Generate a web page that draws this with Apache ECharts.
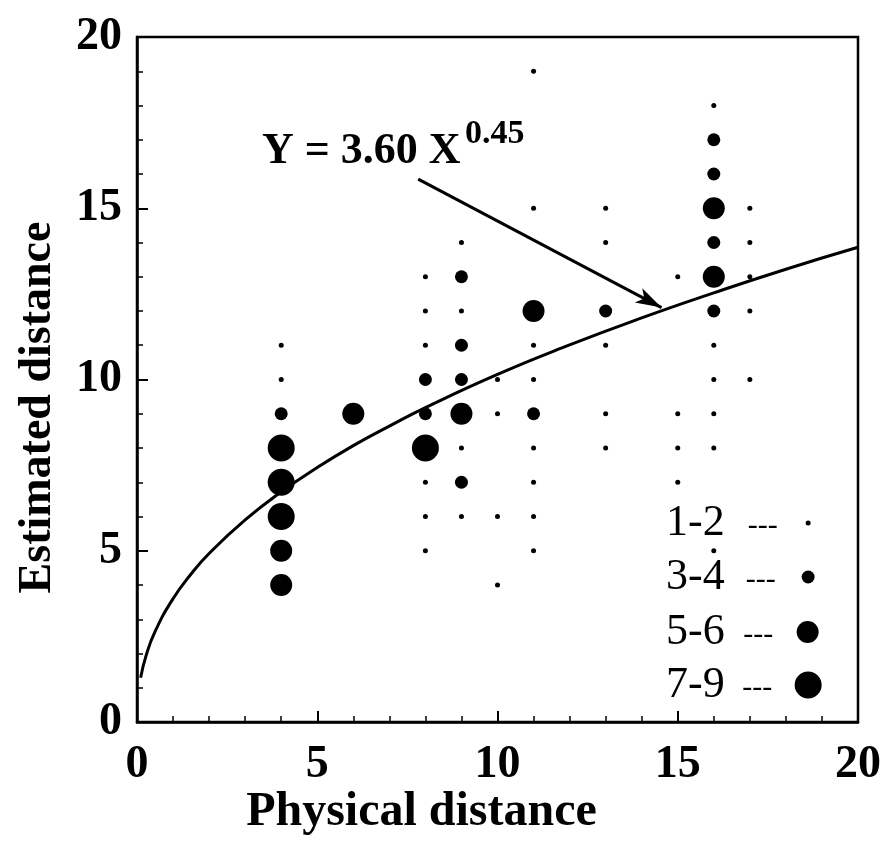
<!DOCTYPE html>
<html><head><meta charset="utf-8">
<script src="https://cdn.jsdelivr.net/npm/echarts@6/dist/echarts.min.js"></script>
<style>html,body{margin:0;padding:0;background:#fff}#c{width:888px;height:841px}</style>
</head><body><div id="c"></div>
<script>
// ---- data ----
const legendLabels = ['1-2', '3-4', '5-6', '7-9'];
const pts12 = [[4,11],[4,10],
  [8,13],[8,12],[8,11],[8,7],[8,6],[8,5],
  [9,14],[9,12],[9,8],[9,6],
  [10,10],[10,9],[10,6],[10,4],
  [11,19],[11,15],[11,11],[11,10],[11,8],[11,7],[11,6],[11,5],
  [13,15],[13,14],[13,11],[13,9],[13,8],
  [15,13],[15,9],[15,8],[15,7],
  [16,18],[16,11],[16,10],[16,9],[16,8],[16,5],
  [17,15],[17,14],[17,13],[17,12],[17,10]];
const pts34 = [[4,9],[8,10],[8,9],[9,13],[9,11],[9,10],[9,7],[11,9],[13,12],[16,17],[16,16],[16,14],[16,12]];
const pts56 = [[4,5],[4,4],[6,9],[9,9],[11,12],[16,15],[16,13]];
const pts79 = [[4,8],[4,7],[4,6],[8,8]];
const curveX = [0.1, 0.25, 0.5, 1, 1.5, 2, 3, 4, 5, 6, 7, 8, 10, 12, 14, 16, 18, 20];
const curveY = [1.29, 1.93, 2.64, 3.60, 4.32, 4.92, 5.90, 6.72, 7.43, 8.07, 8.64, 9.18, 10.15, 11.01, 11.80, 12.53, 13.22, 13.86];
const arrowFrom = [7.8, 15.85];
const arrowTo = [14.55, 12.1];
const formulaMain = 'Y = 3.60 X';
const formulaExp = '0.45';
const xTitle = 'Physical distance';
const yTitle = 'Estimated distance';

// ---- styling ----
const FONT = '"Liberation Serif", "Times New Roman", serif';
const symSizes = [5, 13, 22, 27];
const legendTops = [501, 555, 610, 663];
const dashW = [76, 72, 67, 65];
const seriesPts = [pts12, pts34, pts56, pts79];

const chart = echarts.init(document.getElementById('c'), null, {renderer: 'canvas'});
const axisCommon = {
  type: 'value', min: 0, max: 20, interval: 5,
  nameLocation: 'middle', nameMoveOverlap: false,
  axisLine: {onZero: false, lineStyle: {color: '#000', width: 2.5}},
  axisTick: {inside: true, length: 11, lineStyle: {color: '#000', width: 2}},
  minorTick: {show: true, splitNumber: 5, length: 6, lineStyle: {color: '#000', width: 1.5}},
  splitLine: {show: false},
  axisLabel: {fontSize: 46, fontWeight: 'bold', fontFamily: FONT, color: '#000'}
};
const option = {
  backgroundColor: '#fff',
  animation: false,
  grid: {left: 137, right: 30, top: 37, bottom: 119, show: true, borderColor: '#000', borderWidth: 2.5, containLabel: false, outerBoundsMode: 'none'},
  xAxis: Object.assign({}, axisCommon, {
    name: xTitle, nameGap: 67,
    nameTextStyle: {fontSize: 48, fontWeight: 'bold', fontFamily: FONT, color: '#000', padding: [0, 152, 0, 0]},
    axisLabel: Object.assign({}, axisCommon.axisLabel, {margin: 20})
  }),
  yAxis: Object.assign({}, axisCommon, {
    name: yTitle, nameGap: 76, nameRotate: 90,
    nameTextStyle: {fontSize: 46, fontWeight: 'bold', fontFamily: FONT, color: '#000', padding: [0, 56, 0, 0]},
    axisLabel: Object.assign({}, axisCommon.axisLabel, {margin: 15})
  }),
  legend: legendLabels.map((name, i) => ({
    data: [{name: name, icon: 'circle'}],
    left: 666, top: legendTops[i], padding: 0, itemGap: 0,
    orient: 'vertical', align: 'right', selectedMode: false,
    itemWidth: symSizes[i], itemHeight: symSizes[i],
    itemStyle: {color: '#000', opacity: 1},
    formatter: n => '{a|' + n + '}{b|---}',
    textStyle: {color: '#000', fontFamily: FONT, fontSize: 44,
      rich: {
        a: {fontSize: 44, fontFamily: FONT, color: '#000'},
        b: {fontSize: 30, fontFamily: FONT, color: '#000', width: dashW[i], align: 'center', padding: [6, 0, 0, 0]}
      }}
  })),
  graphic: [
    {type: 'text', left: 262, top: 130, style: {text: formulaMain, font: 'bold 44px ' + FONT, fill: '#000'}},
    {type: 'text', left: 465, top: 117, style: {text: formulaExp, font: 'bold 34px ' + FONT, fill: '#000'}}
  ],
  series: legendLabels.map((name, i) => ({
    type: 'scatter', name: name, data: seriesPts[i], symbol: 'circle', symbolSize: symSizes[i],
    itemStyle: {color: '#000', opacity: 1}, z: 3
  })).concat([{
    type: 'line', name: 'fit', data: curveX.map((x, i) => [x, curveY[i]]),
    smooth: true, showSymbol: false, symbol: 'none', z: 2,
    lineStyle: {color: '#000', width: 3},
    markLine: {
      silent: true, animation: false,
      symbol: ['none', 'arrow'],
      lineStyle: {color: '#000', width: 3, type: 'solid'},
      label: {show: false},
      data: [[{coord: arrowFrom, symbol: 'none'}, {coord: arrowTo, symbol: 'arrow', symbolSize: [12, 26]}]]
    }
  }])
};
chart.setOption(option);
</script>
</body></html>
